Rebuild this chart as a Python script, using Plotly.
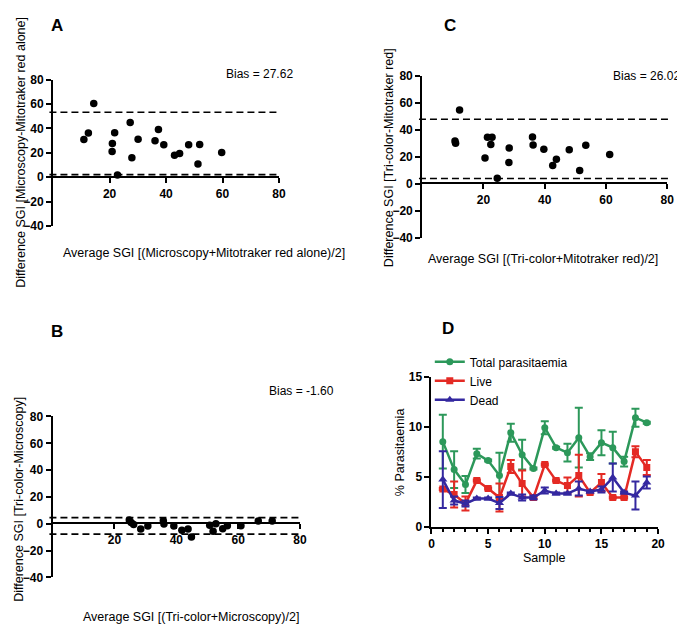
import plotly.graph_objects as go

W, H = 685, 624

# ---------------- Data ----------------
# Panel A: Microscopy vs Mitotraker red alone
a_avg = [10.9, 12.5, 14.4, 21.0, 20.9, 21.8, 22.8, 27.3, 27.9, 30.1, 36.1, 37.3, 39.2, 43.0, 44.8, 48.0, 51.3, 51.9, 59.7]
a_diff = [30.9, 36.3, 60.3, 27.7, 21.1, 36.5, 1.9, 44.8, 16.0, 31.2, 29.9, 39.2, 26.7, 18.1, 19.5, 26.7, 10.9, 26.9, 20.3]
a_bias = 27.62
a_limits = [53.2, 2.2]

# Panel B: Tri-color vs Microscopy
b_avg = [24.8, 25.4, 26.2, 28.5, 30.8, 35.8, 36.0, 39.2, 41.8, 43.8, 44.9, 50.8, 51.9, 52.8, 55.0, 56.5, 60.9, 66.5, 71.0]
b_diff = [2.8, 1.0, -0.6, -3.9, -1.7, 2.2, -0.2, -1.7, -4.8, -3.9, -9.8, -1.1, -5.5, 0.0, -3.8, -1.5, -1.5, 2.1, 2.1]
b_bias = -1.60
b_limits = [4.6, -7.7]

# Panel C: Tri-color vs Mitotraker red
c_avg = [12.2, 10.7, 10.9, 20.5, 21.3, 22.8, 22.4, 24.5, 28.4, 28.3, 36.0, 36.2, 39.7, 42.6, 43.8, 48.0, 51.4, 53.4, 61.2]
c_diff = [54.9, 31.8, 30.1, 19.3, 34.7, 34.7, 29.2, 4.1, 26.7, 15.9, 34.9, 28.9, 25.8, 13.7, 18.3, 25.3, 9.9, 28.7, 21.9]
c_bias = 26.02
c_limits = [48.0, 4.0]

# Panel D: parasitaemia per sample
samples = list(range(1, 20))
total = [8.5, 5.7, 4.2, 7.3, 6.6, 5.1, 9.4, 7.2, 5.8, 9.9, 7.9, 7.4, 8.9, 7.0, 8.4, 7.9, 6.5, 10.9, 10.4]
total_err = [2.7, 1.85, 0.85, 0.5, 0.1, 2.3, 0.9, 1.5, 0.1, 0.65, 0.1, 0.9, 3.0, 0.35, 1.25, 1.6, 0.5, 0.9, 0.1]
live = [3.75, 3.2, 2.3, 4.6, 3.8, 2.9, 6.0, 4.3, 2.9, 6.2, 4.6, 4.1, 5.1, 3.4, 4.4, 2.9, 2.9, 7.5, 5.9]
live_err = [0.1, 1.3, 0.7, 0.1, 0.1, 1.4, 0.65, 1.3, 0.1, 0.1, 0.1, 0.8, 2.1, 0.1, 0.85, 0.1, 0.1, 0.55, 0.75]
dead = [4.7, 2.6, 2.3, 2.8, 2.8, 2.35, 3.3, 2.9, 2.9, 3.6, 3.3, 3.3, 3.8, 3.5, 3.7, 4.9, 3.4, 3.1, 4.4]
dead_err = [2.85, 0.4, 0.3, 0.1, 0.1, 0.6, 0.1, 0.3, 0.2, 0.3, 0.1, 0.1, 0.7, 0.1, 0.3, 1.4, 0.1, 1.4, 0.6]

GREEN = "rgb(44,152,90)"
RED = "rgb(228,42,36)"
BLUE = "rgb(52,40,160)"

FONT = "Liberation Sans, Arial, sans-serif"


def px_x(p):
    return p / W


def px_y(p):
    return 1 - p / H


fig = go.Figure()

tickfont = dict(family=FONT, size=12, color="black", weight="bold")


def axis_common():
    return dict(showline=True, linecolor="black", linewidth=2, ticks="outside",
                ticklen=5, tickwidth=2, tickcolor="black", showgrid=False,
                zeroline=False, tickfont=tickfont, fixedrange=True)


# ---- Panel A ----
fig.add_trace(go.Scatter(x=a_avg, y=a_diff, mode="markers", xaxis="x", yaxis="y",
                         marker=dict(color="black", size=7.5), showlegend=False))
# ---- Panel B ----
fig.add_trace(go.Scatter(x=b_avg, y=b_diff, mode="markers", xaxis="x2", yaxis="y2",
                         marker=dict(color="black", size=7.5), showlegend=False))
# ---- Panel C ----
fig.add_trace(go.Scatter(x=c_avg, y=c_diff, mode="markers", xaxis="x3", yaxis="y3",
                         marker=dict(color="black", size=7.5), showlegend=False))

# ---- Panel D ----
for name, vals, errs, col, sym, msize in [
    ("Total parasitaemia", total, total_err, GREEN, "circle", 7),
    ("Live", live, live_err, RED, "square", 7),
    ("Dead", dead, dead_err, BLUE, "triangle-up", 8),
]:
    fig.add_trace(go.Scatter(
        x=samples, y=vals, mode="lines+markers", name=name, xaxis="x4", yaxis="y4",
        line=dict(color=col, width=2.5),
        marker=dict(color=col, size=msize, symbol=sym),
        error_y=dict(type="data", array=errs, visible=True, color=col,
                     thickness=2, width=4),
    ))

layout = dict(
    width=W, height=H, margin=dict(l=0, r=0, t=0, b=0),
    paper_bgcolor="white", plot_bgcolor="white",
    showlegend=True,
    legend=dict(x=px_x(425), y=px_y(340), xanchor="left", yanchor="top",
                font=dict(family=FONT, size=12, color="black"),
                bgcolor="rgba(0,0,0,0)", tracegroupgap=0, itemwidth=30),
)

# A axes
xa = axis_common()
xa.update(domain=[px_x(42.7), px_x(272)], range=[0, 80], tickvals=[20, 40, 60, 80],
          anchor="free", position=px_y(166))
ya = axis_common()
ya.update(domain=[px_y(216), px_y(66)], range=[-40, 80], tickvals=[-40, -20, 0, 20, 40, 60, 80],
          anchor="x")
layout["xaxis"] = xa
layout["yaxis"] = ya

# B axes
xb = axis_common()
xb.update(domain=[px_x(42.2), px_x(293.3)], range=[0, 80], tickvals=[20, 40, 60, 80],
          anchor="free", position=px_y(520))
yb = axis_common()
yb.update(domain=[px_y(575.3), px_y(410.7)], range=[-40, 80], tickvals=[-40, -20, 0, 20, 40, 60, 80],
          anchor="x2")
layout["xaxis2"] = xb
layout["yaxis2"] = yb

# C axes
xc = axis_common()
xc.update(domain=[px_x(417.3), px_x(666)], range=[0, 80], tickvals=[20, 40, 60, 80],
          anchor="free", position=px_y(172.3))
yc = axis_common()
yc.update(domain=[px_y(227.7), px_y(62.7)], range=[-40, 80], tickvals=[-40, -20, 0, 20, 40, 60, 80],
          anchor="x3")
layout["xaxis3"] = xc
layout["yaxis3"] = yc

# D axes
xd = axis_common()
xd.update(domain=[px_x(426.7), px_x(656.7)], range=[0, 20], tickvals=[0, 5, 10, 15, 20],
          anchor="y4", minor=dict(tickvals=list(range(0, 21)), ticklen=3, tickwidth=1.5,
                                   tickcolor="black", ticks="outside"))
yd = axis_common()
yd.update(domain=[px_y(523.3), px_y(370)], range=[0, 15], tickvals=[0, 5, 10, 15],
          anchor="x4")
layout["xaxis4"] = xd
layout["yaxis4"] = yd

fig.update_layout(**layout)

# Dashed limits of agreement
shapes = []
for yref, lims, x0, x1 in [("y", a_limits, 39, 272), ("y2", b_limits, 39, 293),
                           ("y3", c_limits, 414, 668)]:
    for v in lims:
        shapes.append(dict(type="line", xref="paper", yref=yref, x0=px_x(x0), x1=px_x(x1),
                           y0=v, y1=v, line=dict(color="black", width=1.6, dash="7px,4px")))
fig.update_layout(shapes=shapes)

# Text annotations
ann = []


def text(x, y, s, size=12, bold=False, angle=0):
    ann.append(dict(x=px_x(x), y=px_y(y), xref="paper", yref="paper", text=s,
                    showarrow=False, textangle=angle, xanchor="center", yanchor="middle",
                    font=dict(family=FONT, size=size, color="black",
                              weight="bold" if bold else "normal")))


text(47, 11, "A", 17, True)
text(445, 11, "C", 17, True)
text(47, 324, "B", 17, True)
text(443, 321, "D", 17, True)

text(252, 60, "Bias = %.2f" % a_bias)
text(645, 62, "Bias = %.2f" % c_bias)
text(295, 385, "Bias = %.2f" % b_bias)

text(10, 140, "Difference SGI [Microscopy-Mitotraker red alone]", 12.5, angle=-90)
text(383, 146, "Difference SGI [Tri-color-Mitotraker red]", 12.5, angle=-90)
text(8, 495, "Difference SGI [Tri-color-Microscopy]", 12.5, angle=-90)
text(395, 447, "% Parasitaemia", 12.5, angle=-90)

text(196, 243, "Average SGI [(Microscopy+Mitotraker red alone)/2]", 12.5)
text(540, 250, "Average SGI [(Tri-color+Mitotraker red)/2]", 12.5)
text(183, 616, "Average SGI [(Tri-color+Microscopy)/2]", 12.5)
text(541, 555, "Sample", 12.5)

fig.update_layout(annotations=ann)

fig.write_html("out.html")
